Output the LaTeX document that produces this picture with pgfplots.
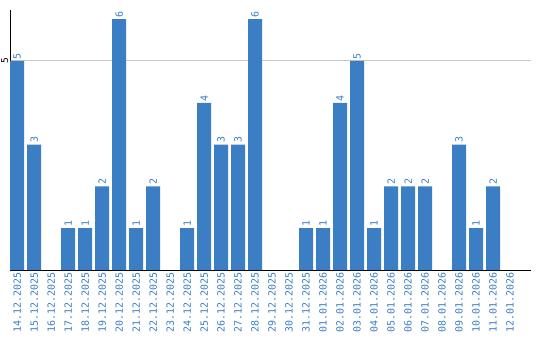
\documentclass[border=0pt]{standalone}
\usepackage{pgfplots}
\pgfplotsset{compat=1.18}
\usepackage{fontspec}
\setmainfont{DejaVu Sans}
\newfontfamily\monofont{DejaVu Sans Mono}
\definecolor{barblue}{RGB}{59,126,196}
\begin{document}
\begin{tikzpicture}
\begin{axis}[
 at={(0,0)}, anchor=south west,
 /pgf/number format/assume math mode=true,
 scale only axis, width=521bp, height=260bp,
 xmin=-0.42, xmax=30.23, ymin=0, ymax=6.22,
 axis x line=bottom, axis y line=left,
 axis line style={-, black, line width=1bp},
 xtick={0,...,29},
 xticklabels={14.12.2025,15.12.2025,16.12.2025,17.12.2025,18.12.2025,19.12.2025,20.12.2025,21.12.2025,22.12.2025,23.12.2025,24.12.2025,25.12.2025,26.12.2025,27.12.2025,28.12.2025,29.12.2025,30.12.2025,31.12.2025,01.01.2026,02.01.2026,03.01.2026,04.01.2026,05.01.2026,06.01.2026,07.01.2026,08.01.2026,09.01.2026,10.01.2026,11.01.2026,12.01.2026},
 xticklabel style={rotate=90, anchor=east, inner sep=2bp, font=\monofont\fontsize{10}{10}\selectfont, text=barblue},
 ytick={5},
 yticklabel style={rotate=90, anchor=south, inner sep=1.5bp, font=\monofont\fontsize{9.5}{9.5}\selectfont, text=black},
 ymajorgrids, grid style={black!22, line width=1bp},
 major tick length=0,
 ybar, bar width=14bp, bar shift=0pt,
 nodes near coords,
 nodes near coords style={rotate=90, anchor=west, inner sep=1.5bp, font=\monofont\fontsize{10}{10}\selectfont, text=barblue},
]
\addplot[fill=barblue, draw=none] coordinates {
(0,5) (1,3) (3,1) (4,1) (5,2) (6,6) (7,1) (8,2) (10,1) (11,4) (12,3) (13,3) (14,6)
(17,1) (18,1) (19,4) (20,5) (21,1) (22,2) (23,2) (24,2) (26,3) (27,1) (28,2)
};
\end{axis}
\pgfresetboundingbox
\path[use as bounding box] (-10bp,-70bp) rectangle (530bp,270bp);
\end{tikzpicture}
\end{document}
